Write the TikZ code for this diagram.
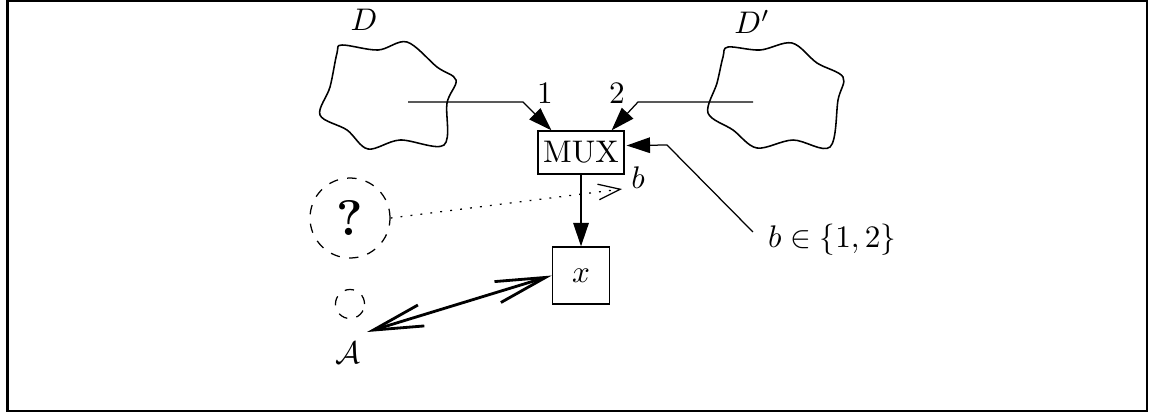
\documentclass[tikz,border=0pt]{standalone}
\usetikzlibrary{arrows.meta,calc}
\begin{document}
\begin{tikzpicture}[x=0.32pt,y=-0.32pt,
  box/.style={draw, inner sep=0pt},
  fillhead/.style={-{Triangle[length=7.5pt,width=5pt]}},
  blob/.style={line width=0.5pt},
  dcirc/.style={draw, dashed, circle, inner sep=0pt},
  barbs/.style={line width=0.9pt,{Straight Barb[length=16pt,width=7pt]}-{Straight Barb[length=16pt,width=7pt]}},
  dotarrow/.style={dash pattern=on 0.6pt off 2.6pt,-{Straight Barb[length=7pt,width=5pt]}}]
\useasboundingbox (0,0) rectangle (1149,414);
\draw[line width=0.8pt] (7.5,1) rectangle (1147,411);
% clouds
\draw[blob] plot[smooth cycle, tension=0.55] coordinates {(342,45) (378,50) (407,42) (437,67) (456,80) (447,103) (444,145) (400,140) (368,149) (347,130) (320,115) (330,87) (337,53)};
\draw[blob] plot[smooth cycle, tension=0.55] coordinates {(728,47) (760,50) (792,43) (817,63) (843,77) (838,100) (830,147) (793,140) (757,148) (733,130) (708,113) (717,83) (723,57)};
% nodes
\node (D) at (364,20) {$D$};
\node (Dp) at (752,22) {$D'$};
\node (one) at (545,93) {1};
\node (two) at (617,93) {2};
\node[box, minimum width=27.5pt, minimum height=13.8pt] (mux) at (581,152.5) {MUX};
\node[box, minimum size=18.3pt] (x) at (581,275.5) {$x$};
\node[dcirc, minimum size=25.6pt] (q) at (350,218) {\fontsize{16}{18}\selectfont\bfseries ?};
\node[dcirc, minimum size=9.3pt] (a) at (350,304) {};
\node (A) at (348,353) {$\mathcal{A}$};
\node (b) at (638,178) {$b$};
\node (bset) at (832,240) {$b\in\{1,2\}$};
\coordinate (dc) at (408,102);
\coordinate (dpc) at (753,102);
\coordinate (bt) at (622,189);
\coordinate (at) at (367,332);
% connectors
\draw[fillhead] (dc) -- (523,102) -- ($(mux.north west)+(14,0)$);
\draw[fillhead] (dpc) -- (638,102) -- ($(mux.north east)+(-13,0)$);
\draw[fillhead] ($(bset.west)+(-4,-8)$) -- (667,145) -- ($(mux.east)+(2,-7)$);
\draw[fillhead] (mux) -- (x);
\draw[dotarrow] (q.east) -- (bt);
\draw[barbs] (at) -- (x.west);
\end{tikzpicture}
\end{document}
